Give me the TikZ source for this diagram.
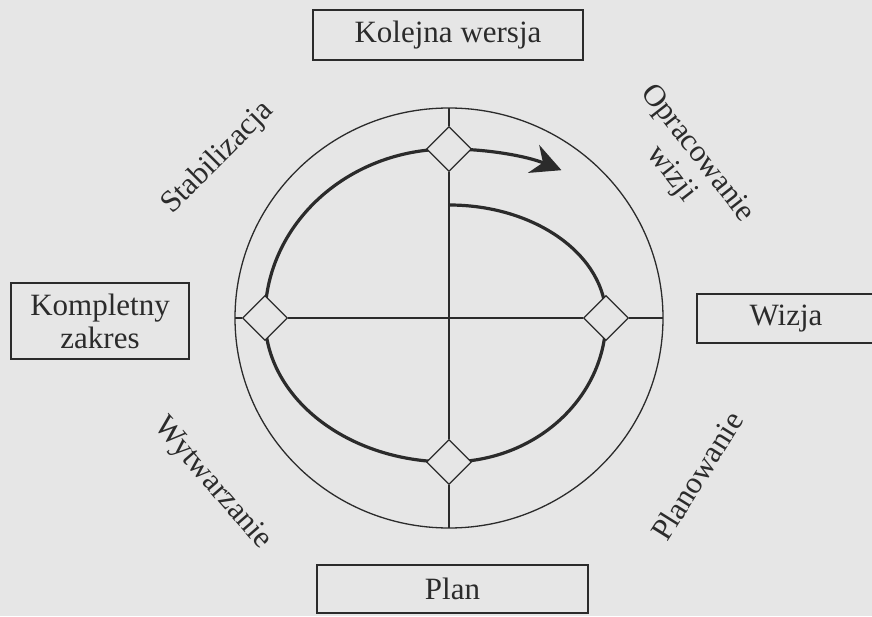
\documentclass[tikz,border=0pt]{standalone}
\usepackage{fontspec}
\setmainfont{Liberation Serif}
\usepackage{tikz}
\usetikzlibrary{shapes.geometric, arrows.meta}
\definecolor{scanBg}{HTML}{E6E6E6}
\definecolor{inkDark}{HTML}{2B2B2B}

\begin{document}
\begin{tikzpicture}[x=1pt, y=1pt, every node/.style={font=\fontsize{31}{33}\selectfont, text=inkDark},
    phasebox/.style={draw=inkDark, line width=1.3pt, fill=scanBg, align=center, inner sep=0pt},
    milestone/.style={diamond, draw=inkDark, line width=1.3pt, fill=scanBg, minimum width=45pt, minimum height=45pt, inner sep=0pt},
    axisline/.style={draw=inkDark, line width=1.3pt},
    spiral/.style={draw=inkDark, line width=3.2pt}]
    \fill[scanBg] (0,0) rectangle (872,616);
    \useasboundingbox (0,0) rectangle (872,616);
    \clip (0,0) rectangle (872,616);
    % outer ring
    \node[ellipse, draw=inkDark, line width=1.3pt, minimum width=428pt, minimum height=420pt, inner sep=0pt, outer sep=0pt](rim)at(449,298){};
    % spiral of the cycle
    \coordinate(spiralStart)at(449,411);
    \draw[spiral,-{Stealth[length=30pt,width=30pt,inset=10pt]}](spiralStart)
        arc[start angle=90, end angle=0, x radius=157, y radius=113]
        arc[start angle=0, end angle=-90, x radius=157, y radius=144]
        arc[start angle=-90, end angle=-180, x radius=184, y radius=144]
        arc[start angle=180, end angle=90, x radius=184, y radius=169]
        arc[start angle=90, end angle=61, x radius=232, y radius=169];
    % milestones
    \node[milestone](msTop)at(449,467){};
    \node[milestone](msRight)at(606,298){};
    \node[milestone](msBottom)at(449,154){};
    \node[milestone](msLeft)at(265,298){};
    \draw[axisline](msLeft.east)--(msRight.west);
    \draw[axisline](msTop.south)--(msBottom.north);
    \draw[axisline](msTop.north)--(rim.north);
    \draw[axisline](msRight.east)--(rim.east);
    \draw[axisline](msBottom.south)--(rim.south);
    \draw[axisline](msLeft.west)--(rim.west);
    % milestone names
    \node[phasebox, minimum width=270pt, minimum height=50pt](nextVer)at(448,581){Kolejna wersja};
    \node[phasebox, minimum width=178pt, minimum height=76pt](fullScope)at(100,295){Kompletny\\zakres};
    \node[phasebox, minimum width=178pt, minimum height=49pt](vision)at(786,297.5){Wizja};
    \node[phasebox, minimum width=271pt, minimum height=48pt](plan)at(452.5,27){Plan};
    % phase names
    \node[rotate=45](stab)at(218,458){Stabilizacja};
    \node[rotate=-52, align=center](envis)at(684,452){Opracowanie\\wizji};
    \node[rotate=-49](build)at(212,132){Wytwarzanie};
    \node[rotate=58](planning)at(697,140){Planowanie};
\end{tikzpicture}
\end{document}
